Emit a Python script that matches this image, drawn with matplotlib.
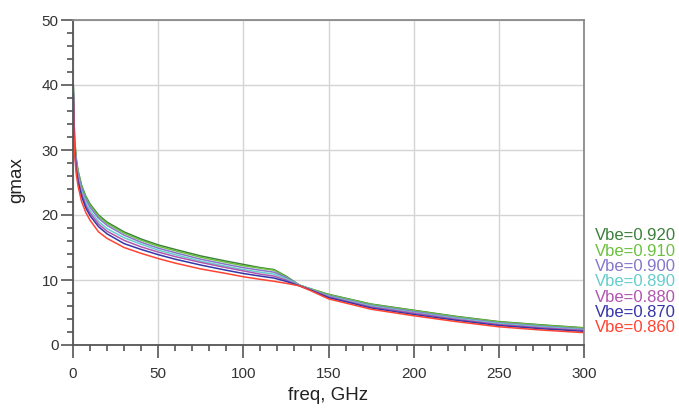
#!/usr/bin/env python3
# gmax vs freq for several Vbe values
import numpy as np
import matplotlib
matplotlib.use('Agg')
import matplotlib.pyplot as plt
from matplotlib.ticker import MultipleLocator

plt.rcParams['font.family'] = ['Liberation Sans', 'DejaVu Sans']

freq = [0.2, 0.5, 1, 2, 3, 5, 7.5, 10, 15, 20, 30, 40, 50, 60, 75, 90, 100,
        110, 118, 125, 133, 140, 150, 175, 200, 225, 250, 275, 300]

g_920 = [40.0, 35.5, 31.5, 28.5, 26.8, 24.6, 22.9, 21.7, 20.0, 18.9, 17.4, 16.3,
         15.4, 14.7, 13.7, 12.9, 12.4, 11.9, 11.6, 10.6, 9.2, 8.6, 7.8, 6.3,
         5.35, 4.4, 3.6, 3.1, 2.65]
g_910 = [39.8, 35.3, 31.3, 28.3, 26.6, 24.4, 22.7, 21.5, 19.8, 18.7, 17.2, 16.1,
         15.2, 14.5, 13.5, 12.7, 12.2, 11.8, 11.5, 10.5, 9.2, 8.6, 7.75, 6.25,
         5.3, 4.35, 3.55, 3.05, 2.6]
g_900 = [39.5, 34.9, 31.0, 28.0, 26.3, 24.1, 22.4, 21.2, 19.5, 18.4, 16.9, 15.8,
         14.9, 14.2, 13.2, 12.4, 11.9, 11.5, 11.2, 10.4, 9.2, 8.5, 7.6, 6.1,
         5.15, 4.2, 3.4, 2.9, 2.45]
g_890 = [39.2, 34.5, 30.6, 27.6, 25.9, 23.7, 22.0, 20.7, 19.0, 17.9, 16.5, 15.5,
         14.6, 13.9, 12.9, 12.1, 11.6, 11.2, 10.9, 10.2, 9.2, 8.5, 7.5, 6.0,
         5.0, 4.1, 3.3, 2.8, 2.35]
g_880 = [38.9, 34.1, 30.3, 27.2, 25.5, 23.3, 21.5, 20.3, 18.6, 17.5, 16.1, 15.1,
         14.3, 13.6, 12.7, 11.9, 11.4, 10.9, 10.6, 10.0, 9.1, 8.45, 7.4, 5.85,
         4.9, 3.95, 3.15, 2.65, 2.25]
g_870 = [38.5, 33.6, 29.8, 26.8, 25.1, 22.9, 21.1, 19.9, 18.2, 17.1, 15.6, 14.7,
         13.9, 13.2, 12.3, 11.5, 11.0, 10.6, 10.3, 9.8, 9.1, 8.4, 7.3, 5.7,
         4.7, 3.8, 3.0, 2.5, 2.1]
g_860 = [38.0, 33.0, 29.2, 26.1, 24.4, 22.1, 20.4, 19.2, 17.4, 16.4, 15.0, 14.1,
         13.3, 12.6, 11.7, 11.0, 10.5, 10.1, 9.8, 9.5, 9.1, 8.3, 7.1, 5.5,
         4.5, 3.6, 2.8, 2.3, 1.9]

labels = ['Vbe=0.920', 'Vbe=0.910', 'Vbe=0.900', 'Vbe=0.890',
          'Vbe=0.880', 'Vbe=0.870', 'Vbe=0.860']
series = [g_920, g_910, g_900, g_890, g_880, g_870, g_860]
colors = ['#3c7f3c', '#6cc040', '#8577cc', '#66cccc', '#b055b0', '#3535a8', '#ff4433']

fig = plt.figure(figsize=(6.79, 4.12), dpi=100)
ax = fig.add_axes([73 / 679, 67 / 412, 511 / 679, 325 / 412])

for vals, col in zip(series, colors):
    ax.plot(freq, vals, color=col, lw=1.1)

ax.set_xlim(0, 300)
ax.set_ylim(0, 50)
ax.xaxis.set_major_locator(MultipleLocator(50))
ax.xaxis.set_minor_locator(MultipleLocator(10))
ax.yaxis.set_major_locator(MultipleLocator(10))
ax.yaxis.set_minor_locator(MultipleLocator(2))
ax.grid(True, which='major', color='#d4d4d4', lw=1.0)
ax.set_axisbelow(True)

for s in ax.spines.values():
    s.set_color('#8a8a8a')
    s.set_linewidth(1.3)
ax.spines['left'].set_color('#555555')
ax.spines['bottom'].set_color('#555555')

ax.tick_params(which='major', length=9, width=1.2, color='#555555',
               labelsize=11, labelcolor='#333333')
ax.tick_params(which='minor', length=4.5, width=1.2, color='#555555')
ax.tick_params(axis='x', pad=6.5)
ax.tick_params(axis='y', pad=1.5)

# axis titles placed like the original
fig.text(328 / 679, 1 - 396 / 412, 'freq, GHz', fontsize=13.5, color='#222222',
         ha='center', va='center')
fig.text(17 / 679, 1 - 180 / 412, 'gmax', fontsize=13.5, color='#222222',
         ha='center', va='center', rotation=90)

# legend as plain coloured text to the right
y0 = 1 - 236 / 412
for i, (lab, col) in enumerate(zip(labels, colors)):
    fig.text(595 / 679, y0 - i * 15.3 / 412, lab, color=col, fontsize=12,
             va='center', ha='left')

fig.savefig('out.png', dpi=100)
